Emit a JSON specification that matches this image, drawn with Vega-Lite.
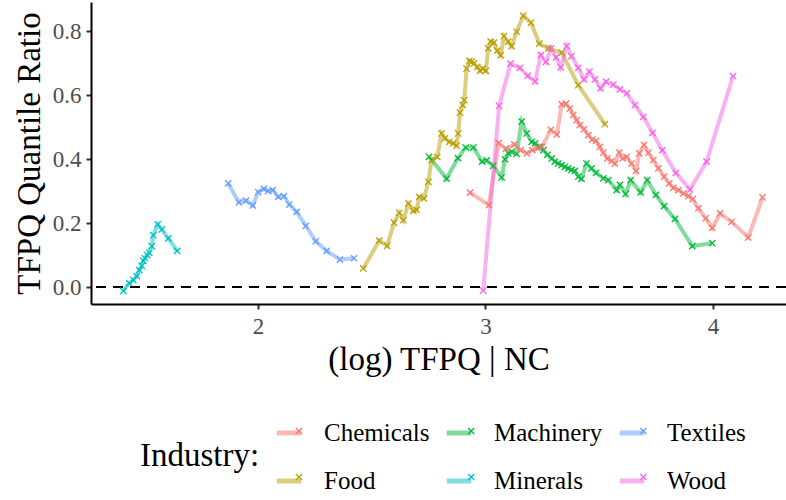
{
  "$schema": "https://vega.github.io/schema/vega-lite/v6.json",
  "autosize": {"type": "none"},
  "width": 695,
  "height": 302,
  "padding": {"left": 91, "top": 2, "right": 0, "bottom": 196},
  "background": "white",
  "config": {
    "font": "Liberation Serif",
    "view": {"stroke": null},
    "axis": {"grid": false, "domainColor": "black", "domainWidth": 2, "tickColor": "#333333", "tickWidth": 2, "tickSize": 5, "labelColor": "#4D4D4D", "labelFont": "Liberation Serif", "titleFont": "Liberation Serif", "titleFontWeight": "normal", "titleColor": "black"}
  },
  "data": {"values": [
    {"industry": "Minerals", "x": 1.408, "y": -0.012},
    {"industry": "Minerals", "x": 1.434, "y": 0.012},
    {"industry": "Minerals", "x": 1.452, "y": 0.022},
    {"industry": "Minerals", "x": 1.467, "y": 0.034},
    {"industry": "Minerals", "x": 1.478, "y": 0.053},
    {"industry": "Minerals", "x": 1.489, "y": 0.066},
    {"industry": "Minerals", "x": 1.496, "y": 0.082},
    {"industry": "Minerals", "x": 1.503, "y": 0.090},
    {"industry": "Minerals", "x": 1.513, "y": 0.100},
    {"industry": "Minerals", "x": 1.522, "y": 0.107},
    {"industry": "Minerals", "x": 1.533, "y": 0.128},
    {"industry": "Minerals", "x": 1.540, "y": 0.162},
    {"industry": "Minerals", "x": 1.559, "y": 0.196},
    {"industry": "Minerals", "x": 1.577, "y": 0.180},
    {"industry": "Minerals", "x": 1.606, "y": 0.152},
    {"industry": "Minerals", "x": 1.645, "y": 0.113},
    {"industry": "Textiles", "x": 1.869, "y": 0.324},
    {"industry": "Textiles", "x": 1.916, "y": 0.265},
    {"industry": "Textiles", "x": 1.947, "y": 0.270},
    {"industry": "Textiles", "x": 1.977, "y": 0.255},
    {"industry": "Textiles", "x": 2.001, "y": 0.297},
    {"industry": "Textiles", "x": 2.026, "y": 0.307},
    {"industry": "Textiles", "x": 2.045, "y": 0.300},
    {"industry": "Textiles", "x": 2.065, "y": 0.303},
    {"industry": "Textiles", "x": 2.089, "y": 0.282},
    {"industry": "Textiles", "x": 2.114, "y": 0.284},
    {"industry": "Textiles", "x": 2.138, "y": 0.258},
    {"industry": "Textiles", "x": 2.170, "y": 0.235},
    {"industry": "Textiles", "x": 2.210, "y": 0.191},
    {"industry": "Textiles", "x": 2.254, "y": 0.143},
    {"industry": "Textiles", "x": 2.302, "y": 0.113},
    {"industry": "Textiles", "x": 2.360, "y": 0.086},
    {"industry": "Textiles", "x": 2.422, "y": 0.090},
    {"industry": "Food", "x": 2.463, "y": 0.058},
    {"industry": "Food", "x": 2.533, "y": 0.145},
    {"industry": "Food", "x": 2.568, "y": 0.129},
    {"industry": "Food", "x": 2.598, "y": 0.201},
    {"industry": "Food", "x": 2.621, "y": 0.232},
    {"industry": "Food", "x": 2.639, "y": 0.209},
    {"industry": "Food", "x": 2.661, "y": 0.261},
    {"industry": "Food", "x": 2.683, "y": 0.238},
    {"industry": "Food", "x": 2.697, "y": 0.241},
    {"industry": "Food", "x": 2.709, "y": 0.282},
    {"industry": "Food", "x": 2.730, "y": 0.277},
    {"industry": "Food", "x": 2.749, "y": 0.329},
    {"industry": "Food", "x": 2.763, "y": 0.397},
    {"industry": "Food", "x": 2.788, "y": 0.407},
    {"industry": "Food", "x": 2.807, "y": 0.480},
    {"industry": "Food", "x": 2.822, "y": 0.465},
    {"industry": "Food", "x": 2.841, "y": 0.454},
    {"industry": "Food", "x": 2.858, "y": 0.449},
    {"industry": "Food", "x": 2.873, "y": 0.442},
    {"industry": "Food", "x": 2.880, "y": 0.480},
    {"industry": "Food", "x": 2.888, "y": 0.545},
    {"industry": "Food", "x": 2.900, "y": 0.569},
    {"industry": "Food", "x": 2.907, "y": 0.584},
    {"industry": "Food", "x": 2.917, "y": 0.683},
    {"industry": "Food", "x": 2.929, "y": 0.707},
    {"industry": "Food", "x": 2.939, "y": 0.704},
    {"industry": "Food", "x": 2.949, "y": 0.699},
    {"industry": "Food", "x": 2.964, "y": 0.688},
    {"industry": "Food", "x": 2.976, "y": 0.676},
    {"industry": "Food", "x": 2.988, "y": 0.683},
    {"industry": "Food", "x": 3.002, "y": 0.676},
    {"industry": "Food", "x": 3.012, "y": 0.746},
    {"industry": "Food", "x": 3.023, "y": 0.767},
    {"industry": "Food", "x": 3.037, "y": 0.764},
    {"industry": "Food", "x": 3.052, "y": 0.739},
    {"industry": "Food", "x": 3.067, "y": 0.725},
    {"industry": "Food", "x": 3.081, "y": 0.784},
    {"industry": "Food", "x": 3.100, "y": 0.767},
    {"industry": "Food", "x": 3.115, "y": 0.753},
    {"industry": "Food", "x": 3.137, "y": 0.798},
    {"industry": "Food", "x": 3.166, "y": 0.848},
    {"industry": "Food", "x": 3.200, "y": 0.826},
    {"industry": "Food", "x": 3.237, "y": 0.761},
    {"industry": "Food", "x": 3.276, "y": 0.746},
    {"industry": "Food", "x": 3.335, "y": 0.733},
    {"industry": "Food", "x": 3.408, "y": 0.631},
    {"industry": "Food", "x": 3.525, "y": 0.509},
    {"industry": "Machinery", "x": 2.752, "y": 0.407},
    {"industry": "Machinery", "x": 2.829, "y": 0.339},
    {"industry": "Machinery", "x": 2.879, "y": 0.403},
    {"industry": "Machinery", "x": 2.913, "y": 0.436},
    {"industry": "Machinery", "x": 2.947, "y": 0.436},
    {"industry": "Machinery", "x": 2.985, "y": 0.392},
    {"industry": "Machinery", "x": 3.005, "y": 0.396},
    {"industry": "Machinery", "x": 3.034, "y": 0.379},
    {"industry": "Machinery", "x": 3.071, "y": 0.343},
    {"industry": "Machinery", "x": 3.086, "y": 0.399},
    {"industry": "Machinery", "x": 3.100, "y": 0.418},
    {"industry": "Machinery", "x": 3.115, "y": 0.423},
    {"industry": "Machinery", "x": 3.137, "y": 0.416},
    {"industry": "Machinery", "x": 3.159, "y": 0.517},
    {"industry": "Machinery", "x": 3.181, "y": 0.480},
    {"industry": "Machinery", "x": 3.203, "y": 0.454},
    {"industry": "Machinery", "x": 3.218, "y": 0.449},
    {"industry": "Machinery", "x": 3.237, "y": 0.438},
    {"industry": "Machinery", "x": 3.255, "y": 0.428},
    {"industry": "Machinery", "x": 3.272, "y": 0.413},
    {"industry": "Machinery", "x": 3.291, "y": 0.402},
    {"industry": "Machinery", "x": 3.305, "y": 0.392},
    {"industry": "Machinery", "x": 3.320, "y": 0.386},
    {"industry": "Machinery", "x": 3.335, "y": 0.381},
    {"industry": "Machinery", "x": 3.349, "y": 0.376},
    {"industry": "Machinery", "x": 3.364, "y": 0.371},
    {"industry": "Machinery", "x": 3.378, "y": 0.366},
    {"industry": "Machinery", "x": 3.393, "y": 0.363},
    {"industry": "Machinery", "x": 3.408, "y": 0.345},
    {"industry": "Machinery", "x": 3.422, "y": 0.338},
    {"industry": "Machinery", "x": 3.444, "y": 0.386},
    {"industry": "Machinery", "x": 3.466, "y": 0.371},
    {"industry": "Machinery", "x": 3.486, "y": 0.357},
    {"industry": "Machinery", "x": 3.518, "y": 0.340},
    {"industry": "Machinery", "x": 3.540, "y": 0.334},
    {"industry": "Machinery", "x": 3.577, "y": 0.303},
    {"industry": "Machinery", "x": 3.591, "y": 0.319},
    {"industry": "Machinery", "x": 3.616, "y": 0.291},
    {"industry": "Machinery", "x": 3.638, "y": 0.334},
    {"industry": "Machinery", "x": 3.682, "y": 0.296},
    {"industry": "Machinery", "x": 3.711, "y": 0.334},
    {"industry": "Machinery", "x": 3.749, "y": 0.288},
    {"industry": "Machinery", "x": 3.785, "y": 0.253},
    {"industry": "Machinery", "x": 3.833, "y": 0.213},
    {"industry": "Machinery", "x": 3.909, "y": 0.128},
    {"industry": "Machinery", "x": 3.997, "y": 0.137},
    {"industry": "Chemicals", "x": 2.932, "y": 0.295},
    {"industry": "Chemicals", "x": 3.015, "y": 0.256},
    {"industry": "Chemicals", "x": 3.058, "y": 0.450},
    {"industry": "Chemicals", "x": 3.090, "y": 0.432},
    {"industry": "Chemicals", "x": 3.127, "y": 0.446},
    {"industry": "Chemicals", "x": 3.155, "y": 0.428},
    {"industry": "Chemicals", "x": 3.182, "y": 0.418},
    {"industry": "Chemicals", "x": 3.206, "y": 0.428},
    {"industry": "Chemicals", "x": 3.228, "y": 0.434},
    {"industry": "Chemicals", "x": 3.248, "y": 0.438},
    {"industry": "Chemicals", "x": 3.287, "y": 0.491},
    {"industry": "Chemicals", "x": 3.314, "y": 0.477},
    {"industry": "Chemicals", "x": 3.335, "y": 0.571},
    {"industry": "Chemicals", "x": 3.354, "y": 0.573},
    {"industry": "Chemicals", "x": 3.371, "y": 0.558},
    {"industry": "Chemicals", "x": 3.386, "y": 0.538},
    {"industry": "Chemicals", "x": 3.401, "y": 0.522},
    {"industry": "Chemicals", "x": 3.415, "y": 0.506},
    {"industry": "Chemicals", "x": 3.433, "y": 0.493},
    {"industry": "Chemicals", "x": 3.452, "y": 0.475},
    {"industry": "Chemicals", "x": 3.469, "y": 0.461},
    {"industry": "Chemicals", "x": 3.486, "y": 0.457},
    {"industry": "Chemicals", "x": 3.503, "y": 0.438},
    {"industry": "Chemicals", "x": 3.518, "y": 0.420},
    {"industry": "Chemicals", "x": 3.535, "y": 0.402},
    {"industry": "Chemicals", "x": 3.555, "y": 0.394},
    {"industry": "Chemicals", "x": 3.569, "y": 0.386},
    {"industry": "Chemicals", "x": 3.588, "y": 0.420},
    {"industry": "Chemicals", "x": 3.603, "y": 0.402},
    {"industry": "Chemicals", "x": 3.620, "y": 0.407},
    {"industry": "Chemicals", "x": 3.642, "y": 0.386},
    {"industry": "Chemicals", "x": 3.662, "y": 0.363},
    {"industry": "Chemicals", "x": 3.676, "y": 0.418},
    {"industry": "Chemicals", "x": 3.697, "y": 0.444},
    {"industry": "Chemicals", "x": 3.716, "y": 0.420},
    {"industry": "Chemicals", "x": 3.738, "y": 0.397},
    {"industry": "Chemicals", "x": 3.760, "y": 0.371},
    {"industry": "Chemicals", "x": 3.785, "y": 0.345},
    {"industry": "Chemicals", "x": 3.808, "y": 0.324},
    {"industry": "Chemicals", "x": 3.826, "y": 0.310},
    {"industry": "Chemicals", "x": 3.848, "y": 0.303},
    {"industry": "Chemicals", "x": 3.870, "y": 0.293},
    {"industry": "Chemicals", "x": 3.892, "y": 0.284},
    {"industry": "Chemicals", "x": 3.911, "y": 0.275},
    {"industry": "Chemicals", "x": 3.936, "y": 0.246},
    {"industry": "Chemicals", "x": 3.968, "y": 0.215},
    {"industry": "Chemicals", "x": 3.997, "y": 0.185},
    {"industry": "Chemicals", "x": 4.031, "y": 0.230},
    {"industry": "Chemicals", "x": 4.082, "y": 0.204},
    {"industry": "Chemicals", "x": 4.155, "y": 0.155},
    {"industry": "Chemicals", "x": 4.218, "y": 0.280},
    {"industry": "Wood", "x": 2.990, "y": -0.011},
    {"industry": "Wood", "x": 3.060, "y": 0.566},
    {"industry": "Wood", "x": 3.110, "y": 0.698},
    {"industry": "Wood", "x": 3.151, "y": 0.685},
    {"industry": "Wood", "x": 3.186, "y": 0.660},
    {"industry": "Wood", "x": 3.218, "y": 0.643},
    {"industry": "Wood", "x": 3.243, "y": 0.725},
    {"industry": "Wood", "x": 3.266, "y": 0.704},
    {"industry": "Wood", "x": 3.288, "y": 0.746},
    {"industry": "Wood", "x": 3.310, "y": 0.718},
    {"industry": "Wood", "x": 3.331, "y": 0.687},
    {"industry": "Wood", "x": 3.357, "y": 0.753},
    {"industry": "Wood", "x": 3.378, "y": 0.722},
    {"industry": "Wood", "x": 3.408, "y": 0.685},
    {"industry": "Wood", "x": 3.433, "y": 0.649},
    {"industry": "Wood", "x": 3.457, "y": 0.673},
    {"industry": "Wood", "x": 3.481, "y": 0.649},
    {"industry": "Wood", "x": 3.506, "y": 0.621},
    {"industry": "Wood", "x": 3.530, "y": 0.642},
    {"industry": "Wood", "x": 3.562, "y": 0.633},
    {"industry": "Wood", "x": 3.591, "y": 0.618},
    {"industry": "Wood", "x": 3.621, "y": 0.605},
    {"industry": "Wood", "x": 3.657, "y": 0.569},
    {"industry": "Wood", "x": 3.694, "y": 0.532},
    {"industry": "Wood", "x": 3.734, "y": 0.482},
    {"industry": "Wood", "x": 3.777, "y": 0.428},
    {"industry": "Wood", "x": 3.837, "y": 0.357},
    {"industry": "Wood", "x": 3.899, "y": 0.305},
    {"industry": "Wood", "x": 3.972, "y": 0.392},
    {"industry": "Wood", "x": 4.088, "y": 0.659}
  ]},
  "layer": [
    {
      "mark": {"type": "rule", "strokeDash": [10, 7], "strokeWidth": 2, "color": "black"},
      "encoding": {"y": {"datum": 0, "type": "quantitative"}}
    },
    {
      "mark": {"type": "line", "strokeWidth": 4, "opacity": 0.5, "interpolate": "linear"},
      "encoding": {
        "x": {"field": "x", "type": "quantitative", "scale": {"domain": [1.266, 4.321], "nice": false, "zero": false},
              "axis": {"values": [2, 3, 4], "format": "d", "title": "(log) TFPQ | NC", "labelFontSize": 23, "titleFontSize": 33, "labelPadding": 6, "titlePadding": 5}},
        "y": {"field": "y", "type": "quantitative", "scale": {"domain": [-0.053, 0.891], "nice": false, "zero": false},
              "axis": {"values": [0, 0.2, 0.4, 0.6, 0.8], "format": ".1f", "title": "TFPQ Quantile Ratio", "labelFontSize": 23, "titleFontSize": 33, "labelPadding": 5, "titlePadding": 6}},
        "color": {"field": "industry", "type": "nominal",
          "scale": {"domain": ["Chemicals", "Food", "Machinery", "Minerals", "Textiles", "Wood"], "range": ["#F8766D", "#B79F00", "#00BA38", "#00BFC4", "#619CFF", "#F564E3"]},
          "legend": {"orient": "none", "legendX": 49, "legendY": 416, "columns": 3, "title": "Industry:", "titleOrient": "left", "titleFontSize": 33, "titleFontWeight": "normal", "titleColor": "black", "titlePadding": 14, "titleAnchor": "middle", "titleBaseline": "middle", "labelFontSize": 25, "labelColor": "black", "labelOffset": 20, "symbolType": "M-1,0L1,0", "symbolSize": 600, "symbolStrokeWidth": 5, "symbolOpacity": 0.5, "rowPadding": 20, "columnPadding": 6}}
      }
    },
    {
      "mark": {"type": "point", "shape": "M-1,-1L1,1M-1,1L1,-1", "filled": false, "size": 40, "strokeWidth": 1.3, "opacity": 1},
      "encoding": {
        "x": {"field": "x", "type": "quantitative"},
        "y": {"field": "y", "type": "quantitative"},
        "stroke": {"field": "industry", "type": "nominal",
          "scale": {"range": ["#F8766D", "#B79F00", "#00BA38", "#00BFC4", "#619CFF", "#F564E3"]},
          "legend": {"orient": "none", "legendX": 195, "legendY": 416, "columns": 3, "title": null, "labelExpr": "' '", "labelFontSize": 25, "labelColor": "transparent", "labelOffset": 20, "symbolType": "M-0.25,-0.25L0.25,0.25M-0.25,0.25L0.25,-0.25", "symbolSize": 600, "symbolStrokeWidth": 1.3, "symbolOpacity": 1, "symbolFillColor": "transparent", "rowPadding": 20, "columnPadding": 126.2}}
      }
    }
  ]
}
